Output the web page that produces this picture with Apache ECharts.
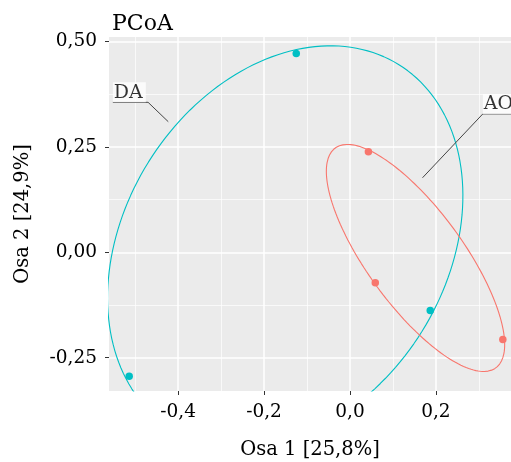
<!DOCTYPE html>
<html>
<head>
<meta charset="utf-8">
<script src="https://cdn.jsdelivr.net/npm/echarts@6/dist/echarts.min.js"></script>
<style>
  html, body { margin: 0; padding: 0; background: #fff; }
  #chart { width: 511px; height: 462px; }
</style>
</head>
<body>
<div id="chart"></div>
<script>
// ---- data ----
const groupNames = ['DA', 'AO'];
const daX = [-0.125, -0.514, 0.187];
const daY = [0.472, -0.294, -0.138];
const aoX = [0.043, 0.059, 0.356];
const aoY = [0.239, -0.072, -0.207];
const xTicks = [-0.4, -0.2, 0.0, 0.2];
const xMinor = [-0.5, -0.3, -0.1, 0.1, 0.3];
const yTicks = [-0.25, 0.0, 0.25, 0.5];
const yMinor = [-0.125, 0.125, 0.375];
const xRange = [-0.561, 0.375];
const yRange = [-0.329, 0.511];
// label anchors (data coords): [underline start, underline end, connector end]
const daLabelPath = [[-0.552, 0.356], [-0.470, 0.356], [-0.423, 0.310]];
const aoLabelPath = [[0.420, 0.3285], [0.3094, 0.3285], [0.169, 0.177]];

const CYAN = '#00BFC4', RED = '#F8766D';
const FONT = 'DejaVu Serif';

// ellipse through the group's points (centroid + scaled covariance contour)
function ellipse(xs, ys, scale) {
  const gx = (xs[0] + xs[1] + xs[2]) / 3, gy = (ys[0] + ys[1] + ys[2]) / 3;
  const ax = xs[0] - gx, ay = ys[0] - gy;
  const bx = (xs[1] - xs[2]) / Math.sqrt(3), by = (ys[1] - ys[2]) / Math.sqrt(3);
  const out = [];
  for (let i = 0; i <= 180; i++) {
    const t = i / 180 * 2 * Math.PI;
    out.push([gx + scale * (ax * Math.cos(t) + bx * Math.sin(t)),
              gy + scale * (ay * Math.cos(t) + by * Math.sin(t))]);
  }
  return out;
}
const zip = (a, b) => a.map((v, i) => [v, b[i]]);

const chart = echarts.init(document.getElementById('chart'), null, { renderer: 'canvas' });
const baseAxis = {
  type: 'value',
  axisLine: { show: false, onZero: false },
};
const option = {
  animation: false,
  backgroundColor: '#fff',
  title: {
    text: 'PCoA', left: 107, top: 8,
    textStyle: { fontFamily: FONT, fontSize: 22, fontWeight: 'normal', color: '#000' }
  },
  grid: { left: 109, top: 37, right: 0, bottom: 71, show: true, backgroundColor: '#EBEBEB', borderWidth: 0,
    containLabel: false, outerBoundsMode: 'none' },
  xAxis: [
    Object.assign({}, baseAxis, {
      min: xRange[0], max: xRange[1],
      axisTick: { show: true, customValues: xTicks, length: 4, lineStyle: { color: '#333', width: 1 } },
      axisLabel: { customValues: xTicks, margin: 12, fontFamily: FONT, fontSize: 18.5, color: '#000',
        formatter: v => v.toFixed(1).replace('.', ',') },
      splitLine: { show: true, lineStyle: { color: '#fff', width: 1.5 } },
      name: 'Osa 1 [25,8%]', nameLocation: 'middle', nameGap: 49,
      nameTextStyle: { fontFamily: FONT, fontSize: 19.5, color: '#000' }
    }),
    Object.assign({}, baseAxis, {
      min: xRange[0], max: xRange[1],
      axisTick: { show: false, customValues: xMinor },
      axisLabel: { show: false, customValues: xMinor },
      splitLine: { show: true, lineStyle: { color: '#fff', width: 0.7 } }
    })
  ],
  yAxis: [
    Object.assign({}, baseAxis, {
      min: yRange[0], max: yRange[1],
      axisTick: { show: true, customValues: yTicks, length: 4, lineStyle: { color: '#333', width: 1 } },
      axisLabel: { customValues: yTicks, margin: 12, fontFamily: FONT, fontSize: 18.5, color: '#000',
        formatter: v => v.toFixed(2).replace('.', ',') },
      splitLine: { show: true, lineStyle: { color: '#fff', width: 1.5 } },
      name: 'Osa 2 [24,9%]', nameLocation: 'middle', nameGap: 76,
      nameTextStyle: { fontFamily: FONT, fontSize: 19.5, color: '#000' }
    }),
    Object.assign({}, baseAxis, {
      min: yRange[0], max: yRange[1],
      axisTick: { show: false, customValues: yMinor },
      axisLabel: { show: false, customValues: yMinor },
      splitLine: { show: true, lineStyle: { color: '#fff', width: 0.7 } }
    })
  ],
  series: [
    { type: 'line', name: groupNames[0] + ' ellipse', data: ellipse(daX, daY, 1.02), showSymbol: false, symbol: 'none',
      lineStyle: { color: CYAN, width: 1.1 }, clip: true, z: 2, silent: true },
    { type: 'line', name: groupNames[1] + ' ellipse', data: ellipse(aoX, aoY, 1.02), showSymbol: false, symbol: 'none',
      lineStyle: { color: RED, width: 1.1 }, clip: true, z: 2, silent: true },
    { type: 'scatter', name: groupNames[0], data: zip(daX, daY), symbolSize: 7.5, itemStyle: { color: CYAN, opacity: 1 }, z: 3, clip: false },
    { type: 'scatter', name: groupNames[1], data: zip(aoX, aoY), symbolSize: 7.5, itemStyle: { color: RED, opacity: 1 }, z: 3, clip: false },
    { type: 'line', data: daLabelPath, symbol: 'none', lineStyle: { color: '#444', width: 1 }, clip: true, z: 4 },
    { type: 'line', data: aoLabelPath, symbol: 'none', lineStyle: { color: '#444', width: 1 }, clip: true, z: 4 },
    { type: 'scatter', data: [daLabelPath[0], [aoLabelPath[1][0], aoLabelPath[1][1]]].map((p, i) => ({ value: p, name: groupNames[i] })),
      symbolSize: 0, z: 5, clip: false,
      label: { show: true, position: [0, 0], align: 'left', verticalAlign: 'bottom', formatter: '{b}',
        fontFamily: FONT, fontSize: 19, color: '#000', backgroundColor: '#fff', padding: [1, 3, 0, 1] } }
  ]
};
chart.setOption(option);
</script>
</body>
</html>
